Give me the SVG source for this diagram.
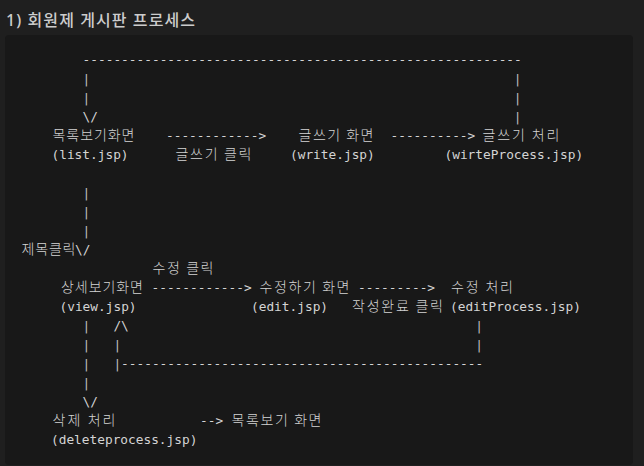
<svg xmlns="http://www.w3.org/2000/svg" width="644" height="466" viewBox="0 0 644 466">
<style>
.a{font-family:"DejaVu Sans Mono","Noto Sans CJK KR",monospace;font-size:12.8px;fill:#d4d4d4}
.k{font-family:"Noto Sans CJK KR","DejaVu Sans Mono",monospace;font-size:14px;fill:#d4d4d4;font-weight:300}
.p{font-family:"DejaVu Sans Mono",monospace;font-size:12.8px;fill:#bdbdbd}
.h{font-family:"Noto Sans","Noto Sans CJK KR",sans-serif;font-size:16px;font-weight:500;fill:#cccccc}
</style>
<rect x="0" y="0" width="644" height="466" fill="#1f1f1f"/>
<text class="h" x="6" y="26" textLength="189">1) 회원제 게시판 프로세스</text>
<rect x="5" y="35" width="628" height="430" rx="4" fill="#181818"/>

<g id="list">
<text class="k" x="52.5" y="140" textLength="82">목록보기화면</text>
<text class="a" x="51.5" y="159">(list.jsp)</text>
</g>
<g id="write">
<text class="k" x="298.5" y="140" textLength="75">글쓰기 화면</text>
<text class="a" x="290" y="159">(write.jsp)</text>
</g>
<g id="writeProcess">
<text class="k" x="482.5" y="140" textLength="77">글쓰기 처리</text>
<text class="a" x="444.5" y="159">(wirteProcess.jsp)</text>
</g>
<g id="view">
<text class="k" x="61" y="292" textLength="82">상세보기화면</text>
<text class="a" x="59.5" y="311">(view.jsp)</text>
</g>
<g id="edit">
<text class="k" x="259.5" y="292" textLength="90">수정하기 화면</text>
<text class="a" x="251" y="311">(edit.jsp)</text>
</g>
<g id="editProcess">
<text class="k" x="451" y="292" textLength="62">수정 처리</text>
<text class="a" x="450" y="311">(editProcess.jsp)</text>
</g>
<g id="delete">
<text class="k" x="52.5" y="425" textLength="63">삭제 처리</text>
<text class="a" x="51" y="444">(deleteprocess.jsp)</text>
</g>
<g id="listAgain">
<text class="k" x="231.5" y="425" textLength="90">목록보기 화면</text>
</g>

<g id="connectors">
<text class="a" x="82.6" y="64">---------------------------------------------------------</text>
<text class="p" x="82.6" y="83">|</text><text class="p" x="513.8" y="83">|</text>
<text class="p" x="82.6" y="102">|</text><text class="p" x="513.8" y="102">|</text>
<text class="a" x="82.6" y="121">\/</text><text class="p" x="513.8" y="121">|</text>
<text class="a" x="166" y="140">------------&gt;</text>
<text class="a" x="390.5" y="140">----------&gt;</text>
<text class="k" x="175.5" y="159" textLength="76">글쓰기 클릭</text>
<text class="p" x="82.6" y="197">|</text>
<text class="p" x="82.6" y="216">|</text>
<text class="p" x="82.6" y="235">|</text>
<text class="k" x="21.5" y="254" textLength="54">제목클릭</text><text class="a" x="75" y="254">\/</text>
<text class="k" x="152.5" y="273" textLength="61">수정 클릭</text>
<text class="a" x="151.5" y="292">------------&gt;</text>
<text class="a" x="358" y="292">---------&gt;</text>
<text class="k" x="352" y="311" textLength="91">작성완료 클릭</text>
<text class="p" x="82.6" y="330">|</text><text class="a" x="113.4" y="330">/\</text><text class="p" x="475.3" y="330">|</text>
<text class="p" x="82.6" y="349">|</text><text class="p" x="113.4" y="349">|</text><text class="p" x="475.3" y="349">|</text>
<text class="p" x="82.6" y="368">|</text><text class="p" x="113.4" y="368">|</text><text class="a" x="121.1" y="368">-----------------------------------------------</text>
<text class="p" x="82.6" y="387">|</text>
<text class="a" x="82.6" y="406">\/</text>
<text class="a" x="200" y="425">--&gt;</text>
</g>
</svg>
